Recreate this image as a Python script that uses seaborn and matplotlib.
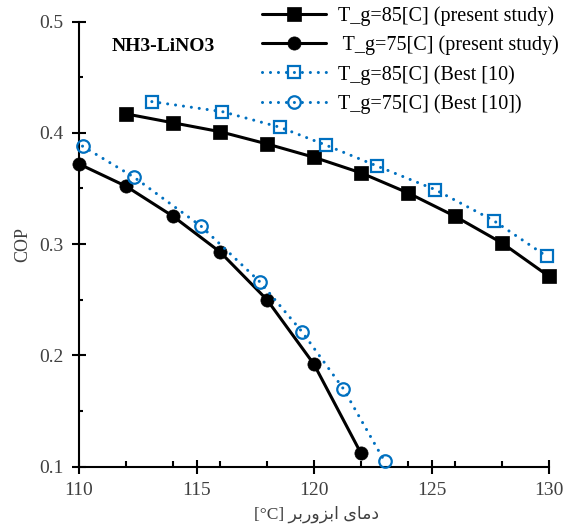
import matplotlib
matplotlib.use("Agg")
import matplotlib.pyplot as plt
import seaborn as sns
from matplotlib.ticker import MultipleLocator

# ---- data ----
x_85_present = [112, 114, 116, 118, 120, 122, 124, 126, 128, 130]
cop_85_present = [0.417, 0.409, 0.401, 0.390, 0.378, 0.364, 0.346, 0.325, 0.301, 0.271]

x_75_present = [110, 112, 114, 116, 118, 120, 122]
cop_75_present = [0.372, 0.352, 0.325, 0.293, 0.250, 0.192, 0.112]

x_85_best = [113.1, 116.1, 118.55, 120.5, 122.7, 125.15, 127.65, 129.9]
cop_85_best = [0.428, 0.419, 0.405, 0.389, 0.370, 0.349, 0.321, 0.289]

x_75_best = [110.15, 112.35, 115.2, 117.7, 119.5, 121.25, 123.0]
cop_75_best = [0.388, 0.360, 0.316, 0.266, 0.221, 0.170, 0.105]

labels = ["T_g=85[C] (present study)", " T_g=75[C] (present study)",
          "T_g=85[C] (Best [10)", "T_g=75[C] (Best [10])"]
title_text = "NH3-LiNO3"
ylabel_text = "COP"
xtick_values = [110, 115, 120, 125, 130]
xtick_labels = ["110", "115", "120", "125", "130"]
ytick_values = [0.1, 0.2, 0.3, 0.4, 0.5]
ytick_labels = ["0.1", "0.2", "0.3", "0.4", "0.5"]
# Persian x label "دمای ابزوربر [°C]" written in visual order with presentation forms
xlabel_text = "[\u00b0C] " + "\uFEAE\uFE91\uFEAD\uFEED\uFEB0\uFE91\uFE8D" + " " + "\uFBFC\uFE8E\uFEE3\uFEA9"

sns.set_style("ticks")
plt.rcParams['font.family'] = ['Liberation Serif', 'DejaVu Sans']

BLUE = "#0070C0"
fig = plt.figure(figsize=(5.7, 5.27), dpi=100)
ax = fig.add_axes([79/570, 1 - 466.7/527, 470/570, 445.2/527])

common = dict(ax=ax, sort=False, estimator=None, clip_on=False, zorder=3)
sns.lineplot(x=x_85_present, y=cop_85_present, **common,
             color="black", linewidth=2.2, marker="s", markersize=10,
             markeredgecolor="black", markerfacecolor="black", markeredgewidth=0.5,
             label=labels[0])
sns.lineplot(x=x_75_present, y=cop_75_present, **common,
             color="black", linewidth=2.2, marker="o", markersize=9.5,
             markeredgecolor="black", markerfacecolor="black", markeredgewidth=0.5,
             label=labels[1])
sns.lineplot(x=x_85_best, y=cop_85_best, **common,
             color=BLUE, linewidth=2.2, linestyle=(0, (0.01, 2.6)),
             dash_capstyle="round", marker="s", markersize=9,
             markeredgecolor=BLUE, markerfacecolor="none", markeredgewidth=1.6,
             label=labels[2])
sns.lineplot(x=x_75_best, y=cop_75_best, **common,
             color=BLUE, linewidth=2.2, linestyle=(0, (0.01, 2.6)),
             dash_capstyle="round", marker="o", markersize=9,
             markeredgecolor=BLUE, markerfacecolor="none", markeredgewidth=1.6,
             label=labels[3])

ax.set_xlim(110, 130)
ax.set_ylim(0.1, 0.5)
ax.xaxis.set_minor_locator(MultipleLocator(2))
ax.yaxis.set_minor_locator(MultipleLocator(0.05))
ax.set_xticks(xtick_values)
ax.set_xticklabels(xtick_labels)
ax.set_yticks(ytick_values)
ax.set_yticklabels(ytick_labels)

for s in ["top", "right"]:
    ax.spines[s].set_visible(False)
for s in ["left", "bottom"]:
    ax.spines[s].set_color("black")
    ax.spines[s].set_linewidth(1.5)
    ax.spines[s].set_zorder(2)

ax.tick_params(which="both", bottom=True, left=True, top=False, right=False)
ax.tick_params(which="major", direction="inout", length=10, width=1.5, color="black",
               labelcolor="#404040", labelsize=14, pad=6)
ax.tick_params(which="minor", direction="in", length=4, width=1.5, color="black")
ax.tick_params(axis="y", which="minor", length=3)

ax.set_ylabel(ylabel_text, fontsize=13, color="#404040")
ax.yaxis.set_label_coords(-0.102, 0.5)
ax.set_xlabel(xlabel_text, fontsize=12.5, color="#404040")
ax.xaxis.set_label_coords(0.506, -0.088)

ax.text(0.070, 0.943, title_text, transform=ax.transAxes, fontsize=14,
        fontweight="bold", va="center", ha="left", color="black")

leg = ax.legend(loc="upper left", bbox_to_anchor=(262/570, 1 - 6/527),
                bbox_transform=fig.transFigure, frameon=False, fontsize=14.5,
                handlelength=3.2, handletextpad=0.55, labelspacing=0.48,
                borderpad=0, borderaxespad=0, numpoints=1)
for t in leg.get_texts():
    t.set_color("black")

fig.savefig("out.png", dpi=100)
